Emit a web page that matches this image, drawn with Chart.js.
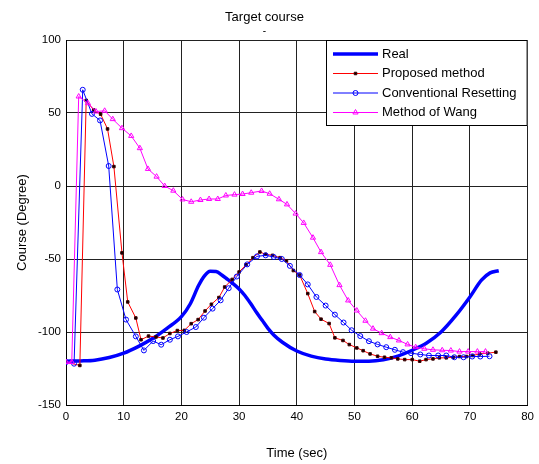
<!DOCTYPE html>
<html>
<head>
<meta charset="utf-8">
<script src="https://cdn.jsdelivr.net/npm/chart.js@4"></script>
<style>
  body { margin: 0; background: #fff; }
  canvas { display: block; }
</style>
</head>
<body>
<canvas id="chart" width="539" height="464"></canvas>
<script>
const FONT = "'Liberation Sans', Arial, sans-serif";

// Real course (smooth, no markers)
const realT = [0, 2.5, 5, 7.5, 10, 12.5, 15, 17.5, 20, 21.5, 23, 24, 25, 26, 27, 28, 29, 30, 31, 32, 33, 34, 35, 36, 37.5, 40, 42.5, 45, 47.5, 50, 52.5, 55, 57.5, 60, 62.5, 65, 67.5, 70, 72, 73.5, 75];
const realV = [-120, -119.8, -119.3, -117.5, -114.5, -110, -104.5, -97.5, -89.5, -81, -68, -61.5, -58.4, -58.6, -61, -64, -67, -70.5, -75, -80.5, -86.5, -92, -97.5, -102, -107, -113, -116.5, -118.5, -119.5, -120, -120, -119, -116.5, -112.5, -107.5, -100, -89, -76, -64.5, -59.5, -58];

// Proposed method
const propT = [0, 2.4, 3.5, 4.8, 6.0, 7.2, 8.3, 9.7, 10.7, 12.1, 13.0, 14.3, 15.6, 16.8, 18.0, 19.3, 20.5, 21.7, 22.9, 24.1, 25.2, 26.5, 27.5, 28.8, 30.0, 31.2, 32.4, 33.6, 34.6, 35.8, 37.1, 38.2, 39.4, 40.5, 41.9, 43.1, 44.2, 45.6, 46.6, 48.0, 49.1, 50.4, 51.5, 52.7, 54.0, 55.2, 56.4, 57.5, 58.7, 60.0, 61.3, 62.4, 63.6, 64.7, 65.9, 67.1, 68.2, 69.4, 70.5, 71.7, 73.1, 74.5];
const propV = [-120.6, -122.9, 58.6, 52, 49.2, 39.1, 13.3, -45.8, -79.4, -90.4, -105.3, -102.8, -103.4, -104.1, -101, -99, -98.9, -94.3, -91.5, -85.6, -81, -76.4, -69.2, -64, -58.9, -54, -49.1, -45.2, -46.8, -47.5, -49.1, -51.2, -57.9, -61, -73.7, -86, -91.2, -94.2, -104, -105.8, -108.6, -110.9, -112.8, -115, -116.6, -117.3, -117.7, -118.4, -118.9, -118.9, -120, -118.9, -118.4, -117.7, -117.7, -117.3, -116.8, -116.8, -116.1, -115, -114.5, -113.8];

// Conventional Resetting
const convT = [0, 1.4, 2.9, 4.5, 5.9, 7.4, 8.9, 10.4, 12.1, 13.5, 15.1, 16.5, 18.0, 19.4, 20.9, 22.5, 23.9, 25.4, 26.8, 28.2, 29.6, 31.4, 33.1, 34.6, 36.0, 37.4, 38.8, 40.5, 41.9, 43.4, 45.0, 46.6, 48.1, 49.5, 51.0, 52.5, 54.0, 55.5, 57.0, 58.4, 59.8, 61.4, 62.9, 64.5, 65.9, 67.3, 68.9, 70.4, 71.8, 73.4];
const convV = [-120.6, -121.7, 65.9, 49.4, 44.9, 13.7, -70.9, -91.5, -103, -112.6, -106.2, -108.7, -105.3, -103, -100, -96.6, -90.2, -84, -78.3, -70, -62, -53.7, -48.2, -47.5, -48.6, -50, -54.7, -61, -67.4, -76, -81.9, -88.1, -93.5, -98.8, -102.8, -106.3, -108.5, -110.4, -112.2, -113.8, -114.5, -115.4, -116.1, -116.1, -116.1, -117.3, -117.3, -116.8, -116.8, -116.6];

// Method of Wang
const wangT = [0, 1.0, 2.2, 3.8, 5.2, 6.7, 8.1, 9.7, 11.3, 12.8, 14.2, 15.7, 17.1, 18.6, 20.2, 21.7, 23.3, 24.8, 26.3, 27.7, 29.2, 30.6, 32.1, 33.9, 35.3, 36.9, 38.3, 39.8, 41.2, 42.8, 44.2, 45.8, 47.4, 48.9, 50.4, 51.9, 53.2, 54.7, 56.2, 57.7, 59.2, 60.6, 62.1, 63.6, 65.2, 66.7, 68.2, 69.7, 71.3, 72.7];
const wangV = [-120.6, -120.6, 61.3, 56.7, 51, 51.5, 45.8, 39.6, 34.3, 25.9, 11.7, 6.4, 0, -3.2, -9.2, -10.8, -9.6, -8.9, -8.9, -6.5, -5.9, -5.5, -4.6, -3.4, -5.3, -9.1, -12.6, -18.9, -25.3, -35.4, -45.3, -54, -67.9, -78.4, -85.3, -92.3, -97.7, -100.8, -103.5, -105.8, -108.5, -110.4, -111.5, -112.2, -112.5, -112.7, -113.4, -113.4, -113.4, -113.4];

const xTicks = [0, 10, 20, 30, 40, 50, 60, 70, 80];
const yTicks = [-150, -100, -50, 0, 50, 100];

const pts = (t, v) => t.map((x, i) => ({ x: x, y: v[i] }));

// legend drawn inside the plot, top right, like the original figure
const boxLegend = {
  id: 'boxLegend',
  afterDatasetsDraw(chart) {
    const { ctx, chartArea } = chart;
    const left = chartArea.left + 260, top = chartArea.top;
    const right = chartArea.right, bottom = chartArea.top + 86;
    ctx.save();
    ctx.fillStyle = '#fff';
    ctx.fillRect(left, top, right - left, bottom - top);
    ctx.strokeStyle = '#000';
    ctx.lineWidth = 1;
    ctx.strokeRect(left + 0.5, top + 0.5, right - left - 1, bottom - top - 1);
    ctx.font = '13px ' + FONT;
    ctx.textBaseline = 'middle';
    chart.data.datasets.forEach((ds, i) => {
      const y = top + 14 + i * 19.5;
      ctx.strokeStyle = ds.borderColor;
      ctx.lineWidth = ds.borderWidth;
      ctx.beginPath();
      ctx.moveTo(left + 7, y);
      ctx.lineTo(left + 52, y);
      ctx.stroke();
      if (ds.pointRadius > 0) {
        ctx.fillStyle = ds.pointBackgroundColor;
        ctx.strokeStyle = ds.pointBorderColor;
        ctx.lineWidth = 1;
        Chart.helpers.drawPoint(ctx, { pointStyle: ds.pointStyle, radius: ds.pointRadius, borderWidth: 1, rotation: 0 }, left + 29.5, y);
      }
      ctx.fillStyle = '#000';
      ctx.fillText(ds.label, left + 56, y);
    });
    ctx.restore();
  }
};

const ctx = document.getElementById('chart').getContext('2d');

new Chart(ctx, {
  type: 'line',
  data: {
    datasets: [
      {
        label: 'Real',
        data: pts(realT, realV),
        borderColor: '#0000ff',
        borderWidth: 3.5,
        pointRadius: 0,
        cubicInterpolationMode: 'monotone',
        order: 4
      },
      {
        label: 'Proposed method',
        data: pts(propT, propV),
        borderColor: '#ff0000',
        borderWidth: 1,
        pointStyle: 'rect',
        pointRadius: 1.8,
        pointBackgroundColor: '#000',
        pointBorderColor: '#400000',
        pointBorderWidth: 1,
        order: 3
      },
      {
        label: 'Conventional Resetting',
        data: pts(convT, convV),
        borderColor: '#0000ff',
        borderWidth: 1,
        pointStyle: 'circle',
        pointRadius: 2.5,
        pointBackgroundColor: 'rgba(0,0,0,0)',
        pointBorderColor: '#0000ff',
        pointBorderWidth: 1,
        order: 2
      },
      {
        label: 'Method of Wang',
        data: pts(wangT, wangV),
        borderColor: '#ff00ff',
        borderWidth: 1,
        pointStyle: 'triangle',
        pointRadius: 3,
        pointBackgroundColor: 'rgba(0,0,0,0)',
        pointBorderColor: '#ff00ff',
        pointBorderWidth: 1,
        order: 1
      }
    ]
  },
  options: {
    responsive: false,
    animation: false,
    layout: { padding: { left: 0, right: 10, top: 0, bottom: 0 } },
    plugins: {
      legend: { display: false },
      tooltip: { enabled: false },
      title: {
        display: true,
        text: 'Target course',
        color: '#000',
        font: { family: FONT, size: 13, weight: 'normal' },
        padding: { top: 10, bottom: 0 }
      },
      subtitle: {
        display: true,
        text: '-',
        color: '#000',
        font: { family: FONT, size: 10, weight: 'normal' },
        padding: { top: 0, bottom: 2.4 }
      }
    },
    scales: {
      x: {
        type: 'linear',
        min: 0,
        max: 80,
        afterBuildTicks: s => { s.ticks = xTicks.map(v => ({ value: v })); },
        afterFit: s => { s.height = 59; },
        ticks: { color: '#000', padding: 5, font: { family: FONT, size: 11.5 } },
        grid: { color: '#222', drawTicks: false },
        border: { color: '#000' },
        title: {
          display: true,
          text: 'Time (sec)',
          color: '#000',
          font: { family: FONT, size: 13 },
          padding: { top: 0, bottom: 3 }
        }
      },
      y: {
        type: 'linear',
        min: -150,
        max: 100,
        afterBuildTicks: s => { s.ticks = yTicks.map(v => ({ value: v })); },
        afterFit: s => { s.width = 66; },
        ticks: { color: '#000', padding: 5, font: { family: FONT, size: 11.5 } },
        grid: { color: '#222', drawTicks: false },
        border: { color: '#000' },
        title: {
          display: true,
          text: 'Course (Degree)',
          color: '#000',
          font: { family: FONT, size: 13 },
          padding: { top: 15, bottom: 0 }
        }
      }
    }
  },
  plugins: [boxLegend]
});
</script>
</body>
</html>
